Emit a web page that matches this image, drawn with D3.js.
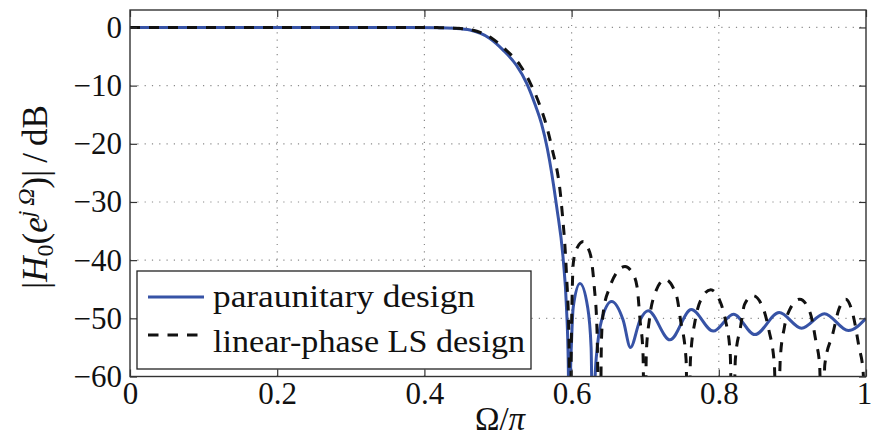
<!DOCTYPE html>
<html>
<head>
<meta charset="utf-8">
<script src="https://cdn.jsdelivr.net/npm/d3@7"></script>
<style>
  html, body { margin: 0; padding: 0; background: #fff; }
  svg { display: block; }
</style>
</head>
<body>
<svg id="chart" width="871" height="437"></svg>
<script>
// Magnitude responses |H0(e^jΩ)| in dB against normalised frequency Ω/π.
// Paraunitary design (solid blue)
const omegaPU = [0, 0.1, 0.2, 0.3, 0.38, 0.42, 0.44, 0.462, 0.489, 0.507, 0.525, 0.539, 0.550, 0.559,
  0.567, 0.5797, 0.5887, 0.593, 0.5955, 0.597, 0.5985, 0.600, 0.6023, 0.6114, 0.6217, 0.6265,
  0.6295, 0.632, 0.635, 0.6408, 0.6544, 0.670, 0.680, 0.693, 0.704, 0.7337, 0.7627, 0.7925,
  0.820, 0.849, 0.882, 0.9125, 0.9435, 0.976, 1.0];
const dbPU = [0, 0, 0, 0, 0, -0.05, -0.15, -0.45, -1.9, -3.9, -6.5, -9.6, -13.1, -16.5,
  -20.8, -30.8, -40, -48, -58, -80, -60, -53.7, -48, -44.0, -48, -55,
  -80, -60, -54.9, -50.3, -47.1, -50.3, -55.0, -50.3, -48.7, -53.7, -48.5, -52.2,
  -49.3, -52.8, -49.0, -51.7, -49.2, -52.1, -50.0];

// Linear-phase least-squares design (dashed black)
const omegaLS = [0, 0.1, 0.2, 0.3, 0.38, 0.42, 0.44, 0.465, 0.492, 0.511, 0.530, 0.544, 0.556, 0.565,
  0.5729, 0.5865, 0.593, 0.5965, 0.598,
  0.5995, 0.601, 0.6023, 0.607, 0.616, 0.622, 0.627, 0.6308, 0.6345, 0.6385,
  0.6405, 0.643, 0.652, 0.662, 0.6726, 0.683, 0.689, 0.693, 0.697, 0.6995,
  0.7015, 0.7056, 0.712, 0.727, 0.7427, 0.748, 0.7555, 0.7586,
  0.7615, 0.768, 0.775, 0.789, 0.803, 0.809, 0.8155, 0.819,
  0.8225, 0.8295, 0.835, 0.8465, 0.860, 0.868, 0.8755, 0.8795,
  0.8835, 0.889, 0.896, 0.910, 0.924, 0.932, 0.937, 0.9405,
  0.944, 0.955, 0.963, 0.9725, 0.982, 0.9906, 0.996, 1.0];
const dbLS = [0, 0, 0, 0, 0, -0.03, -0.12, -0.45, -1.9, -3.9, -6.5, -9.6, -13.1, -16.5,
  -20.5, -30.8, -42.3, -54, -80,
  -56, -44.6, -40.5, -38, -36.8, -37.8, -40, -44.6, -52, -80,
  -54, -49, -44.6, -42, -41.1, -42.3, -44.6, -50.3, -56, -80,
  -56, -50.3, -46.2, -43.3, -46.2, -50.3, -57, -80,
  -57, -50.3, -47, -45.1, -47.5, -50.3, -56, -80,
  -57, -51.5, -47.6, -46.1, -48.2, -52, -58, -80,
  -57, -51.6, -48.6, -46.7, -49, -54, -58, -80,
  -58, -52.6, -48.5, -46.7, -49.2, -55, -59, -80];

const xTicks = [0, 0.2, 0.4, 0.6, 0.8, 1];
const yTicks = [0, -10, -20, -30, -40, -50, -60];
const seriesNames = ["paraunitary design", "linear-phase LS design"];

(function draw() {
  const FONT = "'Liberation Serif', 'Times New Roman', serif";
  const svg = d3.select("#chart");

  const pLeft = 130, pRight = 866, pTop = 10, pBottom = 376.5;
  const x = d3.scaleLinear().domain([0, 1]).range([pLeft, pRight]);
  const y = d3.scaleLinear().domain([-60, 3]).range([pBottom, pTop]);

  // clip region for the curves
  svg.append("defs").append("clipPath").attr("id", "plotClip")
    .append("rect").attr("x", pLeft).attr("y", pTop)
    .attr("width", pRight - pLeft).attr("height", pBottom - pTop);

  // dotted grid
  const grid = svg.append("g").attr("stroke", "#8a8a8a").attr("stroke-width", 1.2)
    .attr("stroke-dasharray", "1.2,6.1");
  grid.selectAll(".gx").data(xTicks.slice(1, -1)).join("line")
    .attr("x1", d => x(d)).attr("x2", d => x(d)).attr("y1", pBottom).attr("y2", pTop);
  grid.selectAll(".gy").data(yTicks.slice(0, -1)).join("line")
    .attr("y1", d => y(d)).attr("y2", d => y(d)).attr("x1", pLeft).attr("x2", pRight);

  // curves
  const line = d3.line().x(d => x(d[0])).y(d => y(d[1])).curve(d3.curveMonotoneX);
  const plot = svg.append("g").attr("clip-path", "url(#plotClip)");
  plot.append("path").datum(d3.zip(omegaPU, dbPU))
    .attr("d", line).attr("fill", "none")
    .attr("stroke", "#3753a6").attr("stroke-width", 3);
  plot.append("path").datum(d3.zip(omegaLS, dbLS))
    .attr("d", line).attr("fill", "none")
    .attr("stroke", "#111").attr("stroke-width", 3)
    .attr("stroke-dasharray", "10,9");

  // axes with inward ticks on all four sides
  function styleAxis(g) {
    g.select(".domain").remove();
    g.selectAll(".tick line").attr("stroke", "#333").attr("stroke-width", 1.2);
    g.selectAll("text").attr("fill", "#111");
    g.attr("font-family", FONT).attr("font-size", 31);
  }
  const fmtX = d => d === 0 || d === 1 ? String(d) : d3.format(".1f")(d);
  svg.append("g").attr("transform", `translate(0,${pBottom})`)
    .call(d3.axisBottom(x).tickValues(xTicks).tickFormat(fmtX).tickSize(-7).tickPadding(5.5))
    .call(styleAxis)
    .call(g => g.selectAll(".tick text").filter(d => d === 1).attr("dx", -2));
  svg.append("g").attr("transform", `translate(0,${pTop})`)
    .call(d3.axisTop(x).tickValues(xTicks).tickFormat("").tickSize(-7))
    .call(styleAxis);
  svg.append("g").attr("transform", `translate(${pLeft},0)`)
    .call(d3.axisLeft(y).tickValues(yTicks).tickFormat(d3.format("d")).tickSize(-7).tickPadding(8))
    .call(styleAxis);
  svg.append("g").attr("transform", `translate(${pRight},0)`)
    .call(d3.axisRight(y).tickValues(yTicks).tickFormat("").tickSize(-7))
    .call(styleAxis);

  // frame
  svg.append("rect").attr("x", pLeft).attr("y", pTop)
    .attr("width", pRight - pLeft).attr("height", pBottom - pTop)
    .attr("fill", "none").attr("stroke", "#333").attr("stroke-width", 1.4);

  // axis labels
  svg.append("text").attr("x", 500).attr("y", 430)
    .attr("text-anchor", "middle").attr("font-family", FONT).attr("font-size", 33)
    .attr("fill", "#111")
    .call(t => {
      t.append("tspan").text("Ω/");
      t.append("tspan").attr("font-style", "italic").text("π");
    });

  const yl = svg.append("text").attr("transform", "translate(47,197) rotate(-90)")
    .attr("text-anchor", "middle").attr("font-family", FONT).attr("font-size", 35)
    .attr("fill", "#111");
  yl.append("tspan").text("|");
  yl.append("tspan").attr("font-style", "italic").text("H");
  yl.append("tspan").attr("font-size", 24).attr("dy", 6).text("0");
  yl.append("tspan").attr("dy", -6).text("(");
  yl.append("tspan").attr("font-style", "italic").text("e");
  yl.append("tspan").attr("font-style", "italic").attr("font-size", 24).attr("dy", -13).text("j\u2009Ω");
  yl.append("tspan").attr("dy", 13).text(")|\u2009/\u2009dB");

  // legend
  const lg = svg.append("g");
  lg.append("rect").attr("x", 137).attr("y", 271).attr("width", 394).attr("height", 98)
    .attr("fill", "#fff").attr("stroke", "#222").attr("stroke-width", 1.3);
  lg.append("line").attr("x1", 148).attr("x2", 204).attr("y1", 297).attr("y2", 297)
    .attr("stroke", "#3753a6").attr("stroke-width", 3);
  lg.append("line").attr("x1", 148).attr("x2", 198).attr("y1", 335).attr("y2", 335)
    .attr("stroke", "#111").attr("stroke-width", 3).attr("stroke-dasharray", "10.5,9");
  const legendText = [{ t: seriesNames[0], y: 307, w: 262 }, { t: seriesNames[1], y: 352, w: 312 }];
  lg.selectAll(".lt").data(legendText).join("text")
    .attr("x", 213).attr("y", d => d.y)
    .attr("font-family", FONT).attr("font-size", 32).attr("fill", "#111")
    .attr("textLength", d => d.w).attr("lengthAdjust", "spacingAndGlyphs")
    .text(d => d.t);
})();
</script>
</body>
</html>
